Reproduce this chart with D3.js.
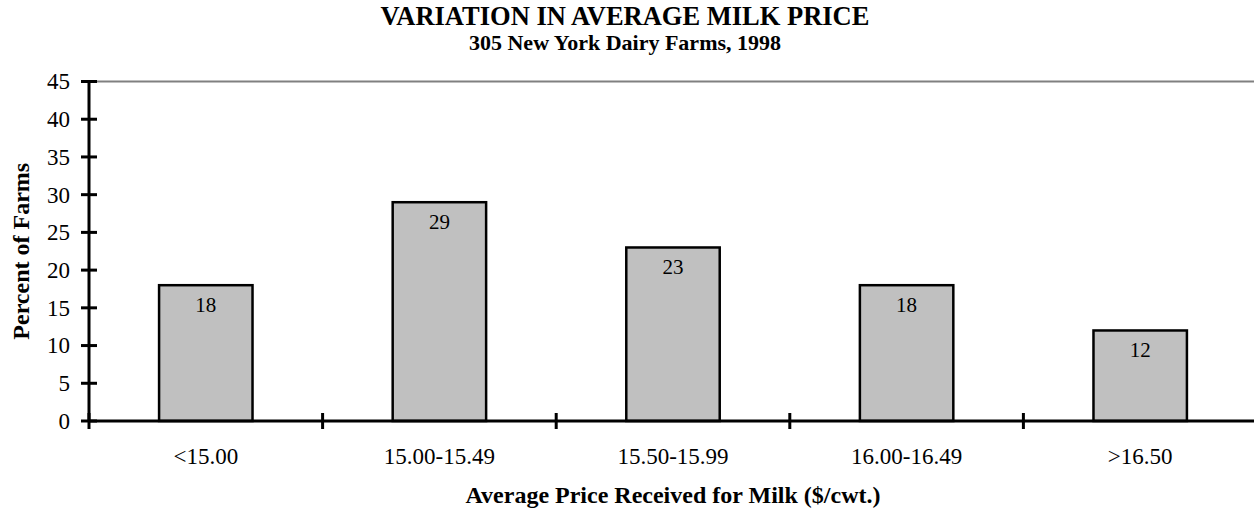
<!DOCTYPE html>
<html>
<head>
<meta charset="utf-8">
<script src="https://cdn.jsdelivr.net/npm/d3@7"></script>
<style>
  html, body { margin: 0; padding: 0; background: #fff; }
  svg { display: block; }
  text { font-family: "Liberation Serif", "Times New Roman", serif; fill: #000; }
</style>
</head>
<body>
<svg id="chart" width="1254" height="508"></svg>
<script>
const categories = ["<15.00", "15.00-15.49", "15.50-15.99", "16.00-16.49", ">16.50"];
const percentFarms = [18, 29, 23, 18, 12];
const yTicks = [0, 5, 10, 15, 20, 25, 30, 35, 40, 45];
const titleLines = ["VARIATION IN AVERAGE MILK PRICE", "305 New York Dairy Farms, 1998"];
const xTitle = "Average Price Received for Milk ($/cwt.)";
const yTitle = "Percent of Farms";

(function () {
const svg = d3.select("#chart");
const pLeft = 89, pRight = 1257, pTop = 81.5, pBottom = 421;
const FONT = "Liberation Serif, Times New Roman, serif";

const x = d3.scaleBand().domain(categories).range([pLeft, pRight]).paddingInner(0.6).paddingOuter(0.3);
const xEdges = d3.scaleLinear().domain([0, categories.length]).range([pLeft, pRight]);
const y = d3.scaleLinear().domain([0, 45]).range([pBottom, pTop]);

// top border (grey)
svg.append("line")
  .attr("x1", pLeft).attr("x2", pRight)
  .attr("y1", y(45)).attr("y2", y(45))
  .attr("stroke", "#808080").attr("stroke-width", 2);

// bars
svg.selectAll("rect.bar").data(percentFarms).enter().append("rect")
  .attr("class", "bar")
  .attr("x", (d, i) => x(categories[i]))
  .attr("width", x.bandwidth())
  .attr("y", d => y(d))
  .attr("height", d => y(0) - y(d))
  .attr("fill", "#c0c0c0")
  .attr("stroke", "#000")
  .attr("stroke-width", 2.5);

// bar labels
svg.selectAll("text.lbl").data(percentFarms).enter().append("text")
  .attr("class", "lbl")
  .attr("x", (d, i) => x(categories[i]) + x.bandwidth() / 2)
  .attr("y", d => y(d) + 27)
  .attr("text-anchor", "middle")
  .attr("font-size", 21)
  .text(d => d);

// y axis
const yAxis = d3.axisLeft(y).tickValues(yTicks).tickSize(0).tickPadding(19);
const yg = svg.append("g").attr("transform", `translate(${pLeft},0)`).call(yAxis);
yg.attr("font-family", FONT).attr("font-size", 23);
yg.select(".domain").remove();
yg.selectAll("text").attr("fill", "#000");
svg.append("line").attr("x1", pLeft).attr("x2", pLeft).attr("y1", y(45)).attr("y2", y(0))
  .attr("stroke", "#000").attr("stroke-width", 3);
svg.selectAll("line.ytick").data(yTicks).enter().append("line")
  .attr("class", "ytick")
  .attr("x1", pLeft - 8).attr("x2", pLeft + 8)
  .attr("y1", d => y(d)).attr("y2", d => y(d))
  .attr("stroke", "#000").attr("stroke-width", 3);

// x axis
const xAxis = d3.axisBottom(x).tickSize(0).tickPadding(0);
const xg = svg.append("g").attr("transform", `translate(0,${pBottom})`).call(xAxis);
xg.attr("font-family", FONT).attr("font-size", 23);
xg.select(".domain").remove();
xg.selectAll("text").attr("fill", "#000").attr("dy", null).attr("y", 43);
svg.append("line").attr("x1", pLeft).attr("x2", pRight).attr("y1", pBottom).attr("y2", pBottom)
  .attr("stroke", "#000").attr("stroke-width", 3);
svg.selectAll("line.xtick").data(d3.range(categories.length + 1)).enter().append("line")
  .attr("class", "xtick")
  .attr("x1", d => xEdges(d)).attr("x2", d => xEdges(d))
  .attr("y1", pBottom - 8).attr("y2", pBottom + 8)
  .attr("stroke", "#000").attr("stroke-width", 3);

// titles
const titleSizes = [26.5, 22];
const titleY = [25, 50];
svg.selectAll("text.title").data(titleLines).enter().append("text")
  .attr("class", "title")
  .attr("x", 625)
  .attr("y", (d, i) => titleY[i])
  .attr("text-anchor", "middle")
  .attr("font-size", (d, i) => titleSizes[i])
  .attr("font-weight", "bold")
  .text(d => d);

svg.append("text")
  .attr("x", (pLeft + pRight) / 2).attr("y", 503)
  .attr("text-anchor", "middle")
  .attr("font-size", 24)
  .attr("font-weight", "bold")
  .text(xTitle);

svg.append("text")
  .attr("transform", `translate(29,${(pTop + pBottom) / 2}) rotate(-90)`)
  .attr("text-anchor", "middle")
  .attr("font-size", 24)
  .attr("font-weight", "bold")
  .text(yTitle);
})();
</script>
</body>
</html>
